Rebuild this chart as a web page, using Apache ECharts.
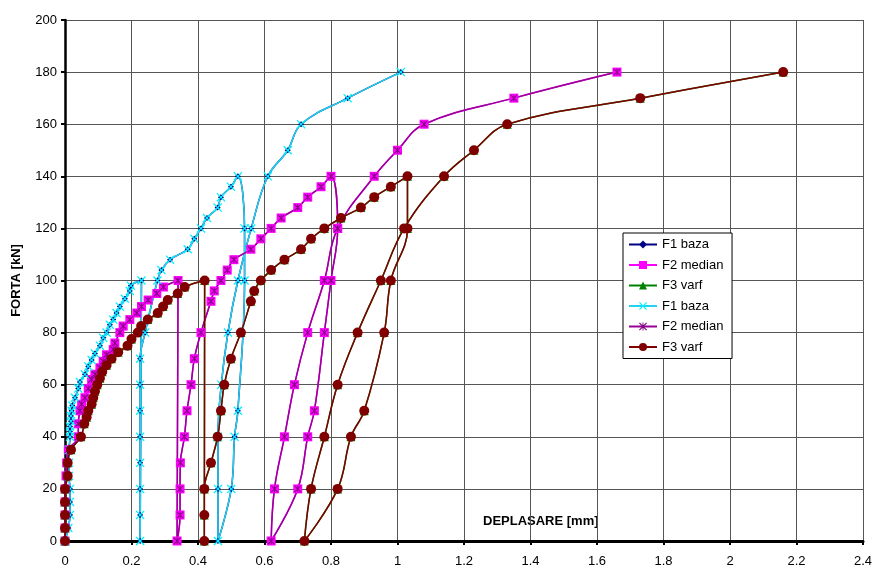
<!DOCTYPE html>
<html>
<head>
<meta charset="utf-8">
<script src="https://cdn.jsdelivr.net/npm/echarts@6/dist/echarts.min.js"></script>
<style>
html,body{margin:0;padding:0;background:#fff;}
#chart{width:873px;height:565px;}
</style>
</head>
<body>
<div id="chart"></div>
<script>
// ---- data (deplasare [mm], forta [kN]) ----
var seriesNames = ['F1 baza', 'F2 median', 'F3 varf'];
var xTicks = [0, 0.2, 0.4, 0.6, 0.8, 1, 1.2, 1.4, 1.6, 1.8, 2, 2.2, 2.4];
var yTicks = [0, 20, 40, 60, 80, 100, 120, 140, 160, 180, 200];

var f1Baza = [
  [0,0],[0.01,5],[0.015,10],[0.015,15],[0.015,20],[0.012,25],[0.012,30],[0.012,35],[0.015,40],[0.015,42],
  [0.015,44],[0.018,46],[0.018,48],[0.02,50],[0.022,52],[0.03,55],[0.04,58.5],[0.045,61],[0.06,64],[0.07,67],
  [0.08,69.5],[0.09,72],[0.105,75],[0.115,78],[0.125,80],[0.135,83],[0.145,85],[0.155,87.5],[0.165,90],[0.18,93],
  [0.195,96],[0.198,98],[0.23,100],
  [0.226,0],[0.226,10],[0.226,20],[0.226,30],[0.226,40],[0.226,50],[0.226,60],[0.226,70],
  [0.241,80],[0.278,100],[0.29,104],[0.316,108],[0.369,112],[0.389,116],[0.409,120],[0.427,124],[0.459,128],
  [0.469,132],[0.499,136],[0.52,140],
  [0.54,120],[0.54,100],[0.52,50],[0.51,40],[0.50,20],[0.46,0],
  [0.46,20],[0.46,40],[0.47,60],[0.49,80],[0.52,100],[0.56,120],[0.61,140],[0.67,150],[0.71,160],[0.85,170],[1.01,180]
];

var f2Median = [
  [0,0],[0,5],[0,10],[0,15],[0,20],[0.003,25],[0.005,30],[0.01,35],[0.04,40],[0.04,45],
  [0.045,50],[0.05,52.5],[0.06,55],[0.07,58.5],[0.08,62],[0.09,64],[0.105,66.5],[0.115,69],[0.125,71.5],[0.145,73.5],
  [0.15,76],[0.165,80],[0.175,82.5],[0.195,85],[0.216,87.5],[0.23,90],[0.25,92.5],[0.276,95],[0.296,97.5],[0.34,100],
  [0.337,0],
  [0.346,10],[0.346,20],[0.347,30],[0.359,40],[0.367,50],[0.379,60],[0.389,70],[0.409,80],[0.439,92],[0.449,96],
  [0.469,100],[0.488,104],[0.508,108],[0.559,112],[0.589,116],[0.62,120],[0.65,124],[0.70,128],[0.73,132],[0.77,136],[0.80,140],
  [0.82,120],[0.80,100],[0.78,80],[0.75,50],[0.73,40],[0.70,20],[0.62,0],
  [0.63,20],[0.66,40],[0.69,60],[0.73,80],[0.78,100],[0.82,120],[0.93,140],[1.0,150],[1.08,160],[1.35,170],[1.66,180]
];

var f3Varf = [
  [0,0],[0,5],[0,10],[0,15],[0,20],[0.008,25],[0.008,30],[0.018,35],[0.048,40],[0.058,45],
  [0.065,47.5],[0.07,50],[0.08,52.5],[0.085,55],[0.09,57.5],[0.097,60],[0.105,62.5],[0.112,65],[0.125,67.5],[0.14,70],
  [0.16,72.5],[0.188,75],[0.2,77.5],[0.219,80],[0.229,82.5],[0.249,85],[0.279,87.5],[0.295,90],[0.309,92.5],[0.339,95],
  [0.36,97.5],[0.42,100],
  [0.419,0],
  [0.419,10],[0.419,20],[0.439,30],[0.459,40],[0.469,50],[0.479,60],[0.499,70],[0.529,80],[0.559,92],[0.569,96],
  [0.589,100],[0.62,104],[0.66,108],[0.71,112],[0.74,116],[0.78,120],[0.83,124],[0.89,128],[0.93,132],[0.98,136],[1.03,140],
  [1.03,120],[0.98,100],[0.96,80],[0.90,50],[0.86,40],[0.82,20],[0.72,0],
  [0.74,20],[0.78,40],[0.82,60],[0.88,80],[0.95,100],[1.02,120],[1.14,140],[1.23,150],[1.33,160],[1.73,170],[2.16,180]
];

// ---- styling ----
var FONT = '"Liberation Sans", Arial, sans-serif';
var xSym = 'path://M1,0L5,4L9,0L10,1L6,5L10,9L9,10L5,6L1,10L0,9L4,5L0,1Z';
var starSym = 'path://M1,0L5,4L9,0L10,1L6,5L10,9L9,10L5,6L1,10L0,9L4,5L0,1Z M4.4,0L5.6,0L5.6,10L4.4,10Z';
var SMOOTH = 0.4;

function mk(name, data, color, symbol, size, lineColor, lw) {
  return {
    name: name, type: 'line', data: data, smooth: SMOOTH,
    symbol: symbol, symbolSize: size, showAllSymbol: true,
    itemStyle: { color: color, borderWidth: 0 },
    lineStyle: { color: lineColor || color, width: lw || 1.5 },
    emphasis: { disabled: true }, animation: false, clip: true
  };
}

var chart = echarts.init(document.getElementById('chart'), null, { renderer: 'canvas' });
chart.setOption({
  animation: false,
  backgroundColor: '#fff',
  textStyle: { fontFamily: FONT },
  grid: { left: 65, right: 10, top: 20, bottom: 24, containLabel: false, outerBoundsMode: 'none' },
  xAxis: {
    type: 'value', min: xTicks[0], max: xTicks[xTicks.length - 1], interval: 0.2,
    axisLine: { show: true, onZero: false, lineStyle: { color: '#000', width: 3 } },
    axisTick: { show: true, inside: false, length: 4, lineStyle: { color: '#000', width: 2 } },
    axisLabel: { color: '#000', fontSize: 13, fontFamily: FONT, margin: 14 },
    splitLine: { show: true, lineStyle: { color: '#555', width: 1 } }
  },
  yAxis: {
    type: 'value', min: yTicks[0], max: yTicks[yTicks.length - 1], interval: 20,
    name: 'FORTA [kN]', nameLocation: 'middle', nameGap: 42, nameRotate: 90,
    nameTextStyle: { color: '#000', fontSize: 13, fontWeight: 'bold', fontFamily: FONT },
    axisLine: { show: true, onZero: false, lineStyle: { color: '#000', width: 2.5 } },
    axisTick: { show: true, inside: false, length: 4, lineStyle: { color: '#000', width: 2 } },
    axisLabel: { color: '#000', fontSize: 13, fontFamily: FONT, margin: 8 },
    splitLine: { show: true, lineStyle: { color: '#555', width: 1 } }
  },
  legend: {
    orient: 'vertical', left: 623, top: 233,
    backgroundColor: '#fff', borderColor: '#000', borderWidth: 1,
    padding: [5, 5, 5, 5], itemGap: 7.5, itemWidth: 28, itemHeight: 10,
    textStyle: { color: '#000', fontSize: 13, fontFamily: FONT },
    data: ['F1 baza', 'F2 median', 'F3 varf', 'F1 baza ', 'F2 median ', 'F3 varf '],
    selectedMode: false
  },
  graphic: [{
    type: 'text', left: 483, top: 515, silent: true,
    style: { text: 'DEPLASARE [mm]', fill: '#000', font: 'bold 13px ' + FONT }
  }],
  series: [
    mk(seriesNames[0], f1Baza, '#000080', 'diamond', 6, '#000080'),
    mk(seriesNames[1], f2Median, '#FF00FF', 'rect', 9, '#FF00FF'),
    mk(seriesNames[2], f3Varf, '#008000', 'triangle', 9, '#008000'),
    mk(seriesNames[0] + ' ', f1Baza, '#00F0FF', xSym, 9, '#20D4F0'),
    mk(seriesNames[1] + ' ', f2Median, '#800080', starSym, 7, '#990099'),
    mk(seriesNames[2] + ' ', f3Varf, '#800000', 'circle', 10, '#800000')
  ]
});
</script>
</body>
</html>
